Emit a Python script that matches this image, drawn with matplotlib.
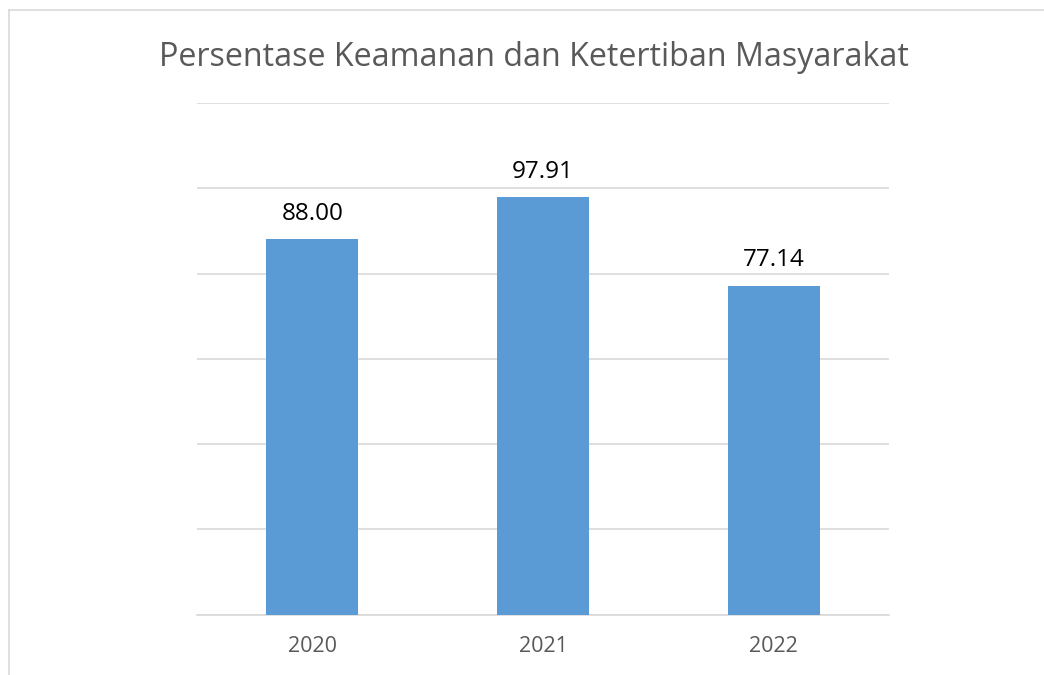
import matplotlib.pyplot as plt
from matplotlib.lines import Line2D

years = ["2020", "2021", "2022"]
values = [88.00, 97.91, 77.14]

plt.rcParams['font.family'] = ['Open Sans', 'DejaVu Sans']

fig = plt.figure(figsize=(10.44, 6.75), dpi=100)
ax = fig.add_axes([0.1887, 0.0896, 0.8515 - 0.1887, 0.8474 - 0.0896])

x = range(len(years))
bars = ax.bar(x, values, width=0.4, color="#5B9BD5", zorder=3)
for b, v in zip(bars, values):
    ax.text(b.get_x() + b.get_width() / 2, v + 3.2, "%.2f" % v,
            ha="center", va="bottom", fontsize=17.5, color="black")

ax.set_xlim(-0.5, 2.5)
ax.set_ylim(0, 120)
ax.set_yticks(range(0, 121, 20))
ax.yaxis.grid(True, color="#d9d9d9", linewidth=1.2, zorder=0)
ax.tick_params(axis="y", left=False, labelleft=False)
ax.tick_params(axis="x", bottom=False, labelsize=15.5, labelcolor="#595959", pad=12)
ax.set_xticks(list(x))
ax.set_xticklabels(years)
for s in ["top", "right", "left"]:
    ax.spines[s].set_visible(False)
ax.spines["bottom"].set_color("#d9d9d9")
ax.spines["bottom"].set_linewidth(1.2)

fig.text(0.511, 0.915, "Persentase Keamanan dan Ketertiban Masyarakat",
         ha="center", va="center", fontsize=23.2, color="#595959")

# chart frame (top and left edges)
fig.add_artist(Line2D([9 / 1044, 9 / 1044], [0, 1 - 10 / 675], color="#d9d9d9", linewidth=1.2))
fig.add_artist(Line2D([9 / 1044, 1], [1 - 10 / 675, 1 - 10 / 675], color="#d9d9d9", linewidth=1.2))

fig.savefig("out.png", dpi=100)
